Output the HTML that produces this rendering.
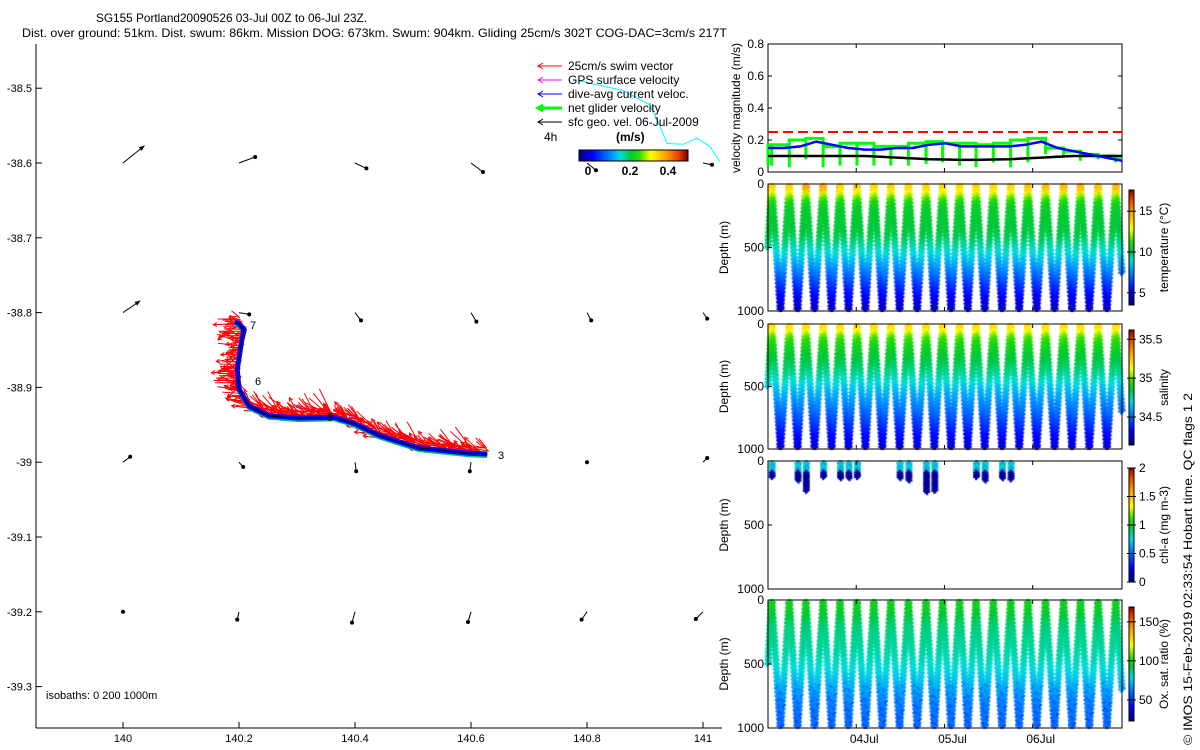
<!DOCTYPE html>
<html><head><meta charset="utf-8"><style>
html,body{margin:0;padding:0;background:#fff;}
#wrap{position:relative;width:1200px;height:750px;overflow:hidden;font-family:"Liberation Sans",sans-serif;}
canvas,svg{position:absolute;left:0;top:0;}
</style></head><body>
<div id="wrap">
<canvas id="cv" width="1200" height="750"></canvas>
<svg id="sv" width="1200" height="750" xmlns="http://www.w3.org/2000/svg" font-family="Liberation Sans, sans-serif" font-size="12">
<text x="96" y="22" font-size="12" textLength="271" lengthAdjust="spacingAndGlyphs">SG155 Portland20090526 03-Jul 00Z to 06-Jul 23Z.</text>
<text x="22" y="37" font-size="12" textLength="705" lengthAdjust="spacingAndGlyphs">Dist. over ground: 51km. Dist. swum: 86km. Mission DOG: 673km. Swum: 904km. Gliding 25cm/s 302T COG-DAC=3cm/s 217T</text>
<g id="map"></g>
<g id="right"></g>
<text transform="translate(1192,745) rotate(-90)" text-anchor="start" font-size="12" textLength="352" lengthAdjust="spacingAndGlyphs">© IMOS 15-Feb-2019 02:33:54 Hobart time. QC flags 1  2</text>
</svg>
</div>
<script>
// ---------- DATA ----------
const lonTicks=[140,140.2,140.4,140.6,140.8,141];
const latTicks=[-38.5,-38.6,-38.7,-38.8,-38.9,-39,-39.1,-39.2,-39.3];
const gridLon=[140,140.2,140.4,140.6,140.8,141];
const gridLat=[-38.6,-38.8,-39.0,-39.2];
const geoU=[[0.36,0.27,0.19,0.2,0.15,0.15],[0.29,0.17,0.1,0.09,0.07,0.07],[0.12,0.07,0.02,-0.02,0,0.07],[0,-0.03,-0.05,-0.05,-0.09,-0.12]];
const geoV=[[0.29,0.1,-0.09,-0.15,-0.12,-0.03],[0.2,-0.03,-0.13,-0.15,-0.13,-0.1],[0.09,-0.08,-0.15,-0.15,0,0.07],[0,-0.13,-0.18,-0.17,-0.13,-0.12]];
const trackLon=[140.628,140.597,140.51,140.441,140.398,140.364,140.303,140.252,140.217,140.2,140.197,140.205,140.209,140.2,140.193];
const trackLat=[-38.989,-38.988,-38.981,-38.964,-38.948,-38.940,-38.941,-38.938,-38.925,-38.902,-38.876,-38.836,-38.823,-38.815,-38.812];
const isoLon=[140.786,140.862,140.908,140.926,140.938,140.966,140.990,141.012,141.029];
const isoLat=[-38.49,-38.503,-38.522,-38.551,-38.574,-38.575,-38.567,-38.578,-38.598];
const diveTop=[1.0,5.8,10.3,15.0,19.6,24.2,28.8,33.4,38.2,43.0,47.5,52.1,56.6,61.3,66.0,70.7,75.5,80.4,85.0,89.8,94.6];
const maxDepth=[1000,1000,1000,1000,1000,1000,1000,1000,1000,1000,1000,1000,1000,1000,1000,1000,1000,1000,1000,1000,1000];
const profDepth=[0,50,100,150,200,300,400,500,600,700,800,900,1000];
const tempProf=[13.8,13.2,12.0,10.8,10.4,10.2,10.0,9.2,8.3,7.2,6.0,5.0,4.2];
const salProf=[35.22,35.15,35.0,34.93,34.88,34.82,34.76,34.67,34.59,34.51,34.41,34.32,34.24];
const oxProf=[97,96,94,90,87,85,83,80,75,70,64,61,60];
const tempSurfBoost=[0.2,0.2,1.2,1.0,0.2,0.3,0.1,0.2,0.1,0.2,0.1,0,0.2,0.1,0.2,0.5,0.7,0.8,0.8,0.6,0.8];
const chlDive=[0,3,4,6,8,9,10,15,16,18,19,24,25,27,28];
const chlBottom=[130,160,240,130,140,140,130,140,160,250,240,130,160,140,150];
const velBlue=[0.15,0.15,0.16,0.19,0.17,0.15,0.14,0.14,0.15,0.15,0.17,0.18,0.16,0.16,0.16,0.16,0.17,0.19,0.15,0.13,0.11,0.09,0.07];
const velGreen=[0.17,0.17,0.2,0.21,0.16,0.18,0.18,0.16,0.16,0.18,0.19,0.18,0.18,0.17,0.18,0.2,0.21,0.15,0.13,0.11,0.1,0.08];
const velGreenDrop=[0.04,0.04,0.03,0.08,0.03,0.04,0.04,0.04,0.04,0.04,0.05,0.06,0.04,0.03,0.06,0.03,0.06,0.11,0.09,0.07,0.08,0.06];
const velBlack=[0.1,0.1,0.1,0.1,0.1,0.1,0.1,0.095,0.09,0.085,0.08,0.078,0.076,0.076,0.078,0.08,0.085,0.09,0.095,0.1,0.1,0.1,0.1];
const dateLabels=["04Jul","05Jul","06Jul"];
const dateHours=[24,48,72];

// ---------- helpers ----------
const NS="http://www.w3.org/2000/svg";
function el(tag,attrs,parent){const e=document.createElementNS(NS,tag);for(const k in attrs)e.setAttribute(k,attrs[k]);parent.appendChild(e);return e;}
const CM=[[0,0,0,130],[0.12,0,0,255],[0.3,0,150,255],[0.38,0,220,220],[0.47,0,200,60],[0.55,40,220,0],[0.66,255,255,0],[0.8,255,160,0],[0.92,230,60,0],[1,130,0,0]];
function jet(t){t=Math.max(0,Math.min(1,t));
 for(let i=1;i<CM.length;i++){if(t<=CM[i][0]){const a=CM[i-1],b=CM[i],f=(t-a[0])/(b[0]-a[0]);
  return `rgb(${Math.round(a[1]+f*(b[1]-a[1]))},${Math.round(a[2]+f*(b[2]-a[2]))},${Math.round(a[3]+f*(b[3]-a[3]))})`;}}
 return 'rgb(130,0,0)';}
function interp(xs,ys,x){if(x<=xs[0])return ys[0];for(let i=1;i<xs.length;i++){if(x<=xs[i]){const f=(x-xs[i-1])/(xs[i]-xs[i-1]);return ys[i-1]+f*(ys[i]-ys[i-1]);}}return ys[ys.length-1];}

// ---------- MAP ----------
const map=document.getElementById('map');
const mx=lon=>123+(lon-140)*580;
const my=lat=>163+(-38.6-lat)*748;
el('line',{x1:36,y1:44,x2:36,y2:728,stroke:'#000','stroke-width':1},map);
el('line',{x1:36,y1:728,x2:722,y2:728,stroke:'#000','stroke-width':1},map);
lonTicks.forEach(l=>{const x=mx(l);
 el('line',{x1:x,y1:728,x2:x,y2:722,stroke:'#000'},map);
 const t=el('text',{x:x,y:742,'text-anchor':'middle','font-size':11},map);t.textContent=String(l);
 });
latTicks.forEach(l=>{const y=my(l);
 el('line',{x1:36,y1:y,x2:42,y2:y,stroke:'#000'},map);
 const t=el('text',{x:32,y:y+4,'text-anchor':'end','font-size':11},map);t.textContent=String(l);
 });
{const t=el('text',{x:46,y:699,'font-size':11},map);t.textContent='isobaths: 0   200  1000m';}
el('polyline',{points:isoLon.map((l,i)=>mx(l)+','+my(isoLat[i])).join(' '),fill:'none',stroke:'#00ffff','stroke-width':1},map);
gridLat.forEach((la,r)=>gridLon.forEach((lo,c)=>{
 const x0=mx(lo),y0=my(la),x1=x0+geoU[r][c]*60,y1=y0-geoV[r][c]*60;
 const g=el('g',{},map);
 el('line',{x1:x0,y1:y0,x2:x1,y2:y1,stroke:'#000','stroke-width':1},g);
 if(geoU[r][c]*geoU[r][c]+geoV[r][c]*geoV[r][c]>0.09){
  const a=Math.atan2(y1-y0,x1-x0);
  el('polygon',{points:`${x1},${y1} ${x1-6*Math.cos(a-0.4)},${y1-6*Math.sin(a-0.4)} ${x1-6*Math.cos(a+0.4)},${y1-6*Math.sin(a+0.4)}`,fill:'#000'},g);
 } else el('circle',{cx:x1,cy:y1,r:2,fill:'#000'},g);
}));
const trackPts=trackLon.map((l,i)=>[mx(l),my(trackLat[i])]);
const redG=el('g',{stroke:'#ff0000','stroke-width':1,fill:'none'},map);
let k=0;
for(let i=0;i<trackPts.length-1;i++){
 const [ax,ay]=trackPts[i],[bx,by]=trackPts[i+1];const L=Math.hypot(bx-ax,by-ay);const n=Math.ceil(L/0.8);
 for(let j=0;j<n;j++){k++;const f=j/n;let px=ax+(bx-ax)*f,py=ay+(by-ay)*f;
  let baseA=i>=9?180:(i<=1?170:160);
  const ang=(baseA+((k*47)%90)-45)*Math.PI/180;const len=6+((k*13)%20);
  px+=((k*5)%7)-3; py+=-((k*3)%9);
  const dx=Math.cos(ang)*len,dy=-Math.abs(Math.sin(ang)*len)*(i>=9?((k%3)-1):1);
  el('line',{x1:px,y1:py,x2:px+dx,y2:py+dy},redG);
  if(k%3===0){const a=Math.atan2(dy,dx),hx=px+dx,hy=py+dy;
   el('polyline',{points:`${hx-4*Math.cos(a-0.5)},${hy-4*Math.sin(a-0.5)} ${hx},${hy} ${hx-4*Math.cos(a+0.5)},${hy-4*Math.sin(a+0.5)}`},redG);}
 }
}
el('polyline',{points:trackPts.map(p=>(p[0])+','+(p[1]+2)).join(' '),fill:'none',stroke:'#00c080','stroke-width':4},map);
el('polyline',{points:trackPts.map(p=>p.join(',')).join(' '),fill:'none',stroke:'#0000ff','stroke-width':5},map);
el('polyline',{points:trackPts.map(p=>p.join(',')).join(' '),fill:'none',stroke:'#000','stroke-width':1},map);
[['3',498,459],['6',255,385],['7',250,329],['5',327,421]].forEach(d=>{const t=el('text',{x:d[1],y:d[2],'font-size':11},map);t.textContent=d[0];});
const leg=[['#ff0000','25cm/s swim vector',1],['#ff00ff','GPS surface velocity',1],['#0000ff','dive-avg current veloc.',1],['#00ff00','net glider velocity',3],['#000','sfc geo. vel. 06-Jul-2009',1]];
leg.forEach((e,i)=>{const y=66+i*14;const g=el('g',{},map);
 el('line',{x1:538,y1:y,x2:562,y2:y,stroke:e[0],'stroke-width':e[2]},g);
 el('polyline',{points:`${543},${y-3} ${538},${y} ${543},${y+3}`,fill:'none',stroke:e[0],'stroke-width':e[2]},g);
 const t=el('text',{x:568,y:y+4,'font-size':12},g);t.textContent=e[1];});
{const t=el('text',{x:544,y:141,'font-size':12},map);t.textContent='4h';
 const u=el('text',{x:616,y:141,'font-size':12,'font-weight':'bold'},map);u.textContent='(m/s)';}
const mcb=el('g',{},map);
for(let i=0;i<109;i++)el('rect',{x:579+i,y:150,width:1.2,height:11,fill:jet(i/108)},mcb);
el('rect',{x:579,y:150,width:109,height:11,fill:'none',stroke:'#000'},mcb);
[['0',588],['0.2',630],['0.4',668]].forEach(d=>{const t=el('text',{x:d[1],y:175,'text-anchor':'middle','font-size':12,'font-weight':'bold'},mcb);t.textContent=d[0];});

// ---------- RIGHT PANELS ----------
const R=document.getElementById('right');
const X0=768,X1=1122;const tx=h=>X0+h/96.3*(X1-X0);
const panels=[{y0:44,y1:172},{y0:184,y1:311},{y0:324,y1:449},{y0:461,y1:589},{y0:600,y1:728}];
panels.forEach((p,i)=>{const r=el('rect',{x:X0,y:p.y0,width:X1-X0,height:p.y1-p.y0,fill:'none',stroke:'#000'},R);
 
 dateHours.forEach(h=>{el('line',{x1:tx(h),y1:p.y1,x2:tx(h),y2:p.y1-4,stroke:'#000'},R);el('line',{x1:tx(h),y1:p.y0,x2:tx(h),y2:p.y0+4,stroke:'#000'},R);});
 if(i>0){[[0,'0'],[500,'500'],[1000,'1000']].forEach(d=>{const y=p.y0+d[0]/1000*(p.y1-p.y0);
   el('line',{x1:X0,y1:y,x2:X0+4,y2:y,stroke:'#000'},R);
   const t=el('text',{x:764,y:y+4,'text-anchor':'end','font-size':12},R);t.textContent=d[1];});
  const t=el('text',{transform:`translate(728,${(p.y0+p.y1)/2}) rotate(-90)`,'text-anchor':'middle','font-size':12},R);t.textContent='Depth (m)';}
});
dateLabels.forEach((d,i)=>{const t=el('text',{x:tx(dateHours[i])+8,y:743,'text-anchor':'middle','font-size':12},R);t.textContent=d;});
const vy=v=>172-v/0.8*128;
[0,0.2,0.4,0.6,0.8].forEach(v=>{el('line',{x1:X0,y1:vy(v),x2:X0+4,y2:vy(v),stroke:'#000'},R);el('line',{x1:X1,y1:vy(v),x2:X1-4,y2:vy(v),stroke:'#000'},R);
 const t=el('text',{x:764,y:vy(v)+4,'text-anchor':'end','font-size':12},R);t.textContent=String(v);});
{const t=el('text',{transform:'translate(740,108) rotate(-90)','text-anchor':'middle','font-size':12},R);t.textContent='velocity magnitude (m/s)';}
el('line',{x1:X0,y1:vy(0.25),x2:X1,y2:vy(0.25),stroke:'#ff0000','stroke-width':2,'stroke-dasharray':'10,5'},R);
const tAll=[0].concat(diveTop).concat([96.3]);
const vt=i=>tAll[Math.min(i,tAll.length-1)];
let gp=[];
velGreen.forEach((g,i)=>{const a=vt(i),b=vt(i+1);gp.push(`${tx(a)},${vy(velGreenDrop[i])}`,`${tx(a)},${vy(g)}`,`${tx(b)},${vy(g)}`);});
el('polyline',{points:gp.join(' '),fill:'none',stroke:'#00ff00','stroke-width':3},R);
const vtimes=velBlue.map((v,i)=>i*96.3/(velBlue.length-1));
el('polyline',{points:velBlack.map((v,i)=>tx(vtimes[i])+','+vy(v)).join(' '),fill:'none',stroke:'#000','stroke-width':2.5},R);
el('polyline',{points:velBlue.map((v,i)=>tx(vtimes[i])+','+vy(v)).join(' '),fill:'none',stroke:'#0000ff','stroke-width':2.5},R);
const cbs=[{y0:190,y1:305,min:3.5,max:17.6,ticks:[5,10,15],label:'temperature (°C)'},
 {y0:330,y1:445,min:34.14,max:35.62,ticks:[34.5,35,35.5],label:'salinity'},
 {y0:468,y1:582,min:0,max:2,ticks:[0,0.5,1,1.5,2],label:'chl-a (mg m-3)'},
 {y0:607,y1:721,min:23,max:169,ticks:[50,100,150],label:'Ox. sat. ratio (%)'}];
cbs.forEach(c=>{const g=el('g',{},R);
 const h=c.y1-c.y0;for(let i=0;i<h;i++)el('rect',{x:1129,y:c.y1-i-1,width:5,height:1.2,fill:jet(i/h)},g);
 el('rect',{x:1129,y:c.y0,width:5,height:h,fill:'none',stroke:'#000'},g);
 c.ticks.forEach(v=>{const y=c.y1-(v-c.min)/(c.max-c.min)*h;el('line',{x1:1127,y1:y,x2:1136,y2:y,stroke:'#000'},g);
  const t=el('text',{x:1139,y:y+4,'font-size':12},g);t.textContent=String(v);});
 const t=el('text',{transform:`translate(1168,${(c.y0+c.y1)/2}) rotate(-90)`,'text-anchor':'middle','font-size':12},g);t.textContent=c.label;});

// ---------- scatter on canvas ----------
const cv=document.getElementById('cv').getContext('2d');
function mark(x,y,col){cv.fillStyle=col;cv.fillRect(x-3,y-1,6,2);cv.fillRect(x-1,y-3,2,6);}
function samples(){const s=[];
 for(let d=500;d>=0;d-=10)s.push([diveTop[0]*(1-d/500),d,-1]);
 diveTop.forEach((t0,i)=>{const t2=i+1<diveTop.length?diveTop[i+1]:t0+4.8;const tb=t0+(t2-t0)/2;
  for(let d=0;d<=maxDepth[i];d+=10){const t=t0+(tb-t0)*d/maxDepth[i];if(t<=96.3)s.push([t,d,i]);}
  for(let d=maxDepth[i];d>=0;d-=10){const t=tb+(t2-tb)*(1-d/maxDepth[i]);if(t<=96.3)s.push([t,d,i]);}
 });return s;}
const S=samples();
function drawPanel(p,cb,valFn){S.forEach((s,n)=>{const x=tx(s[0])+((n%3)-1)*0.8,y=p.y0+s[1]/1000*(p.y1-p.y0);const v=valFn(s,n);mark(x,Math.max(p.y0+2,Math.min(p.y1-2,y)),jet((v-cb.min)/(cb.max-cb.min)));});}
drawPanel(panels[1],cbs[0],s=>interp(profDepth,tempProf,s[1])+(s[1]<80&&s[2]>=0?tempSurfBoost[s[2]]:0));
drawPanel(panels[2],cbs[1],s=>interp(profDepth,salProf,s[1]));
drawPanel(panels[4],cbs[3],(s,n)=>interp(profDepth,oxProf,s[1])-(s[1]>650&&(n%5===0)?10:0));
chlDive.forEach((di,j)=>{const hh=(di%2===0?diveTop[Math.min(di/2|0,20)]:(diveTop[Math.min(di/2|0,20)]+diveTop[Math.min((di/2|0)+1,20)])/2);
 const x=tx(hh);const p=panels[3];
 for(let d=0;d<=chlBottom[j];d+=9){const y=p.y0+d/1000*(p.y1-p.y0);const v=d<90?0.6+((j*3+d)%5)*0.06:0.05;mark(x+((d/9)%2),Math.max(p.y0+2,y),jet(v/2));}
});
</script>
</body></html>
